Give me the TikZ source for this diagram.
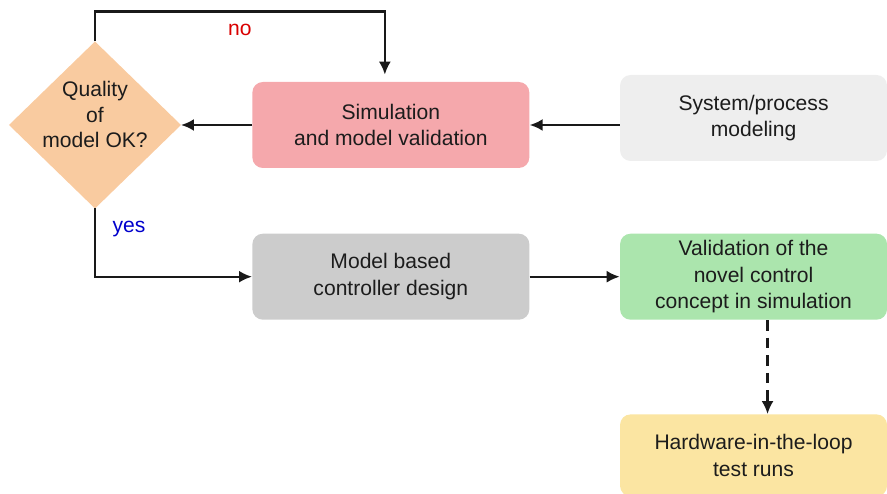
\documentclass[tikz,border=0pt]{standalone}
\usepackage{fontspec}
\setmainfont{Liberation Sans}
\usetikzlibrary{positioning, arrows.meta, shapes.geometric}
\definecolor{cQUAL}{HTML}{F9CBA0}
\definecolor{cSIM}{HTML}{F5A8AC}
\definecolor{cSYS}{HTML}{EEEEEE}
\definecolor{cCTRL}{HTML}{CCCCCC}
\definecolor{cVAL}{HTML}{ABE5AD}
\definecolor{cHIL}{HTML}{FBE5A2}
\definecolor{cTXT}{HTML}{1C1C1C}
\tikzset{
  stagebox/.style={
    fill=#1, draw=none,
    rounded corners=6pt,
    text=cTXT,
    align=center,
    minimum width=5.54cm,
    minimum height=1.72cm,
    font=\fontsize{12}{15}\selectfont
  },
  decision/.style={
    diamond, fill=cQUAL, draw=none,
    inner sep=0pt, outer sep=0pt,
    minimum width=3.44cm,
    minimum height=3.34cm,
    text=cTXT,
    align=center,
    font=\fontsize{12}{14.5}\selectfont
  },
  flow/.style={
    -{Latex[length=2.6mm,width=2.4mm]},
    line width=1.3pt,
    draw=black!90
  },
  branch/.style={
    font=\fontsize{12}{15}\selectfont,
    text=#1
  }
}

\begin{document}
\begin{tikzpicture}[node distance=1.3cm and 1.8cm]
  \useasboundingbox (0,0) rectangle (17.74,9.88);

  \node[decision] (qual) at (1.90,7.38) {\raisebox{1.5pt}[0pt][0pt]{\begin{tabular}{@{}c@{}}Quality\\of\\model OK?\end{tabular}}};
  \node[stagebox=cSIM, right=1.42cm of qual] (sim) {Simulation\\and model validation};
  \node[stagebox=cSYS, right=of sim, minimum width=5.34cm, yshift=0.14cm] (sys) {System/process\\modeling};
  \node[stagebox=cCTRL, below=of sim] (ctrl) {Model based\\controller design};
  \node[stagebox=cVAL, right=of ctrl, minimum width=5.34cm] (val) {Validation of the\\novel control\\concept in simulation};
  \node[stagebox=cHIL, below=1.88cm of val, minimum width=5.34cm, minimum height=1.64cm] (hil) {Hardware-in-the-loop\\test runs};

  \draw[flow] (sys.west |- sim.east) -- (sim.east);
  \draw[flow] (sim) -- (qual);
  \draw[flow, shorten >=0.14cm] (qual.north) -- ++(0,0.6) -| node[pos=0.25, below=3pt, branch=red!85!black]{no} ([xshift=-0.12cm]sim.north);
  \draw[flow] (qual.south) |- node[pos=0.15, right=6pt, branch=blue!80!black]{yes} (ctrl.west);
  \draw[flow] (ctrl) -- (val);
  \draw[flow, dash pattern=on 6pt off 4pt] ([xshift=0.28cm]val.south) -- ([xshift=0.28cm]hil.north);
\end{tikzpicture}
\end{document}
